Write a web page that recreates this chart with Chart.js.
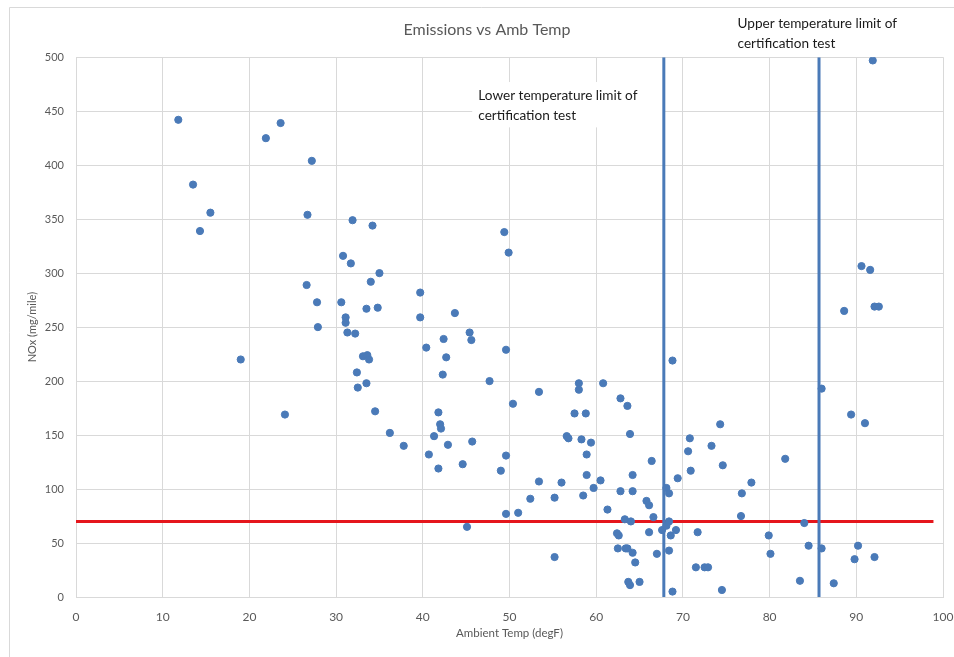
<!DOCTYPE html>
<html>
<head>
<meta charset="utf-8">
<script src="https://cdn.jsdelivr.net/npm/chart.js@4.4.1/dist/chart.umd.min.js"></script>
<style>
  html, body { margin: 0; padding: 0; background: #fff; }
  #wrap { width: 954px; height: 657px; }
</style>
</head>
<body>
<div id="wrap"><canvas id="myChart" width="954" height="657"></canvas></div>
<script>
// ambient temperature (degF) and NOx (mg/mile) for each test
const tempF = [
  11.8, 13.5, 15.5, 14.3, 21.9, 23.6, 27.2, 26.7, 26.6, 27.8, 27.9, 19.0, 24.1,
  31.9, 34.2, 49.4, 49.9, 30.8, 31.7, 35.0, 34.0, 39.7, 30.6, 33.5, 34.8, 43.7,
  39.7, 31.1, 31.1, 31.3, 32.2, 45.4, 45.6, 42.4, 49.6, 40.4, 33.1, 33.6, 33.8,
  42.7, 32.4, 42.3, 47.7, 33.5, 32.5, 53.4, 50.4, 34.5, 41.8, 36.2, 42.0, 42.1,
  41.3, 45.7, 37.8, 42.9, 40.7, 49.6, 41.8, 44.6, 49.0, 53.4, 56.0, 52.4, 55.2,
  49.6, 51.0, 45.1, 55.2, 68.8, 58.0, 58.0, 60.8, 62.8, 63.6, 57.5, 58.8, 63.9,
  56.6, 56.8, 58.3, 59.4, 58.9, 66.4, 58.9, 60.5, 59.7, 58.5, 62.8, 64.2, 64.2,
  61.3, 65.8, 66.1, 68.1, 68.4, 69.4, 70.8, 70.6, 70.9, 73.3, 74.3, 74.6, 66.6,
  63.3, 64.0, 62.4, 62.6, 66.1, 67.6, 68.1, 68.4, 68.6, 69.2, 71.7, 62.5, 63.4,
  63.6, 64.2, 64.5, 67.0, 68.4, 63.7, 63.9, 65.0, 68.8, 71.5, 72.5, 72.9, 74.5,
  86.0, 89.4, 91.0, 81.8, 77.9, 76.8, 76.7, 84.0, 79.9, 80.1, 84.5, 86.0, 90.2,
  89.8, 92.1, 83.5, 87.4, 91.9, 90.6, 91.6, 88.6, 92.1, 92.6
];
const noxValues = [
  442, 382, 356, 339, 425, 439, 404, 354, 289, 273, 250, 220, 169,
  349, 344, 338, 319, 316, 309, 300, 292, 282, 273, 267, 268, 263,
  259, 259, 254, 245, 244, 245, 238, 239, 229, 231, 223, 224, 220,
  222, 208, 206, 200, 198, 194, 190, 179, 172, 171, 152, 160, 156,
  149, 144, 140, 141, 132, 131, 119, 123, 117, 107, 106, 91, 92,
  77, 78, 65, 37, 219, 198, 192, 198, 184, 177, 170, 170, 151,
  149, 147, 146, 143, 132, 126, 113, 108, 101, 94, 98, 113, 98,
  81, 89, 85, 101, 96, 110, 147, 135, 117, 140, 160, 122, 74,
  72, 70, 59, 57, 60, 62, 66, 70, 57, 62, 60, 45, 45,
  45, 41, 32, 40, 43, 14, 11, 14, 5, 27.5, 27.5, 27.5, 6.5,
  193, 169, 161, 128, 106, 96, 75, 68.5, 57, 40, 47.5, 45, 47.5,
  35, 37, 15, 12.7, 497, 306.5, 303, 265, 269, 269
];

// certification test limits
const lowerTempLimit = 67.8;
const upperTempLimit = 85.7;
const noxLimit = 70;
const noxLimitSpan = [0, 98.9];

const xTicks = { min: 0, max: 100, step: 10 };
const yTicks = { min: 0, max: 500, step: 50 };

const title = 'Emissions vs Amb Temp';
const xTitle = 'Ambient Temp (degF)';
const yTitle = 'NOx (mg/mile)';
const lowerLabel = ['Lower temperature limit of', 'certification test'];
const upperLabel = ['Upper temperature limit of', 'certification test'];

const FONT = 'Lato, "Open Sans", sans-serif';
const GREY = '#595959';
const BLUE = '#4a7ab8';

const points = tempF.map((t, i) => ({ x: t, y: noxValues[i] }));

// text labels + the chart frame (drawn at data positions through the scales)
const limitLabels = {
  id: 'limitLabels',
  beforeDraw(chart) {
    const ctx = chart.ctx;
    ctx.save();
    ctx.fillStyle = '#fff';
    ctx.fillRect(0, 0, chart.width, chart.height);
    ctx.strokeStyle = '#d9d9d9';
    ctx.lineWidth = 1;
    ctx.beginPath();
    ctx.moveTo(chart.width, 7.5);
    ctx.lineTo(9.5, 7.5);
    ctx.lineTo(9.5, chart.height);
    ctx.stroke();
    ctx.restore();
  },
  beforeDatasetsDraw(chart) {
    const { ctx, scales: { x, y } } = chart;
    // white box behind the lower label, it hides the gridlines
    const left = x.getPixelForValue(45.7), right = x.getPixelForValue(lowerTempLimit);
    const top = y.getPixelForValue(477), bottom = y.getPixelForValue(435);
    ctx.save();
    ctx.fillStyle = '#fff';
    ctx.fillRect(left, top, right - left, bottom - top);
    ctx.restore();
  },
  afterDraw(chart) {
    const { ctx, scales: { x, y } } = chart;
    ctx.save();
    ctx.font = '13.6px ' + FONT;
    ctx.fillStyle = '#1a1a1a';
    ctx.textAlign = 'left';
    ctx.textBaseline = 'middle';
    lowerLabel.forEach((s, i) => {
      ctx.fillText(s, x.getPixelForValue(46.4), y.getPixelForValue(464 - i * 18.5));
    });
    upperLabel.forEach((s, i) => {
      ctx.fillText(s, x.getPixelForValue(76.3), y.getPixelForValue(531 - i * 18.5));
    });
    ctx.restore();
  }
};

const ctx = document.getElementById('myChart');

new Chart(ctx, {
  type: 'scatter',
  data: {
    datasets: [
      {
        label: 'NOx',
        data: points,
        backgroundColor: BLUE,
        borderColor: BLUE,
        pointRadius: 3.6,
        pointHoverRadius: 3.6,
        order: 1
      },
      {
        label: 'Lower limit',
        data: [{ x: lowerTempLimit, y: yTicks.min }, { x: lowerTempLimit, y: yTicks.max }],
        showLine: true,
        borderColor: BLUE,
        borderWidth: 3,
        pointRadius: 0,
        order: 2
      },
      {
        label: 'Upper limit',
        data: [{ x: upperTempLimit, y: yTicks.min }, { x: upperTempLimit, y: yTicks.max }],
        showLine: true,
        borderColor: BLUE,
        borderWidth: 3,
        pointRadius: 0,
        order: 2
      },
      {
        label: 'NOx limit',
        data: noxLimitSpan.map(t => ({ x: t, y: noxLimit })),
        showLine: true,
        borderColor: '#e5161c',
        borderWidth: 3,
        pointRadius: 0,
        order: 2
      }
    ]
  },
  options: {
    responsive: false,
    animation: false,
    layout: { padding: { top: 10, left: 22, right: 2, bottom: 13 } },
    plugins: {
      legend: { display: false },
      tooltip: { enabled: false },
      title: {
        display: true,
        text: title,
        color: GREY,
        font: { family: FONT, size: 16, weight: 'normal' },
        padding: { top: 10, bottom: 18 }
      }
    },
    scales: {
      x: {
        type: 'linear',
        min: xTicks.min,
        max: xTicks.max,
        afterFit: scale => {
          scale.height = 47;
          scale.paddingLeft = 0;
          scale.paddingRight = 11;
        },
        ticks: { stepSize: xTicks.step, color: GREY, padding: 13, font: { family: FONT, size: 12 } },
        grid: { color: '#d9d9d9', drawTicks: false },
        border: { color: '#d9d9d9' },
        title: { display: true, text: xTitle, color: GREY, font: { family: FONT, size: 11.5 } }
      },
      y: {
        min: yTicks.min,
        max: yTicks.max,
        afterFit: scale => { scale.width = 54; },
        ticks: { stepSize: yTicks.step, color: GREY, padding: 12, font: { family: FONT, size: 11 } },
        grid: { color: '#d9d9d9', drawTicks: false },
        border: { color: '#d9d9d9' },
        title: { display: true, text: yTitle, color: GREY, font: { family: FONT, size: 11 } }
      }
    }
  },
  plugins: [limitLabels]
});
</script>
</body>
</html>
